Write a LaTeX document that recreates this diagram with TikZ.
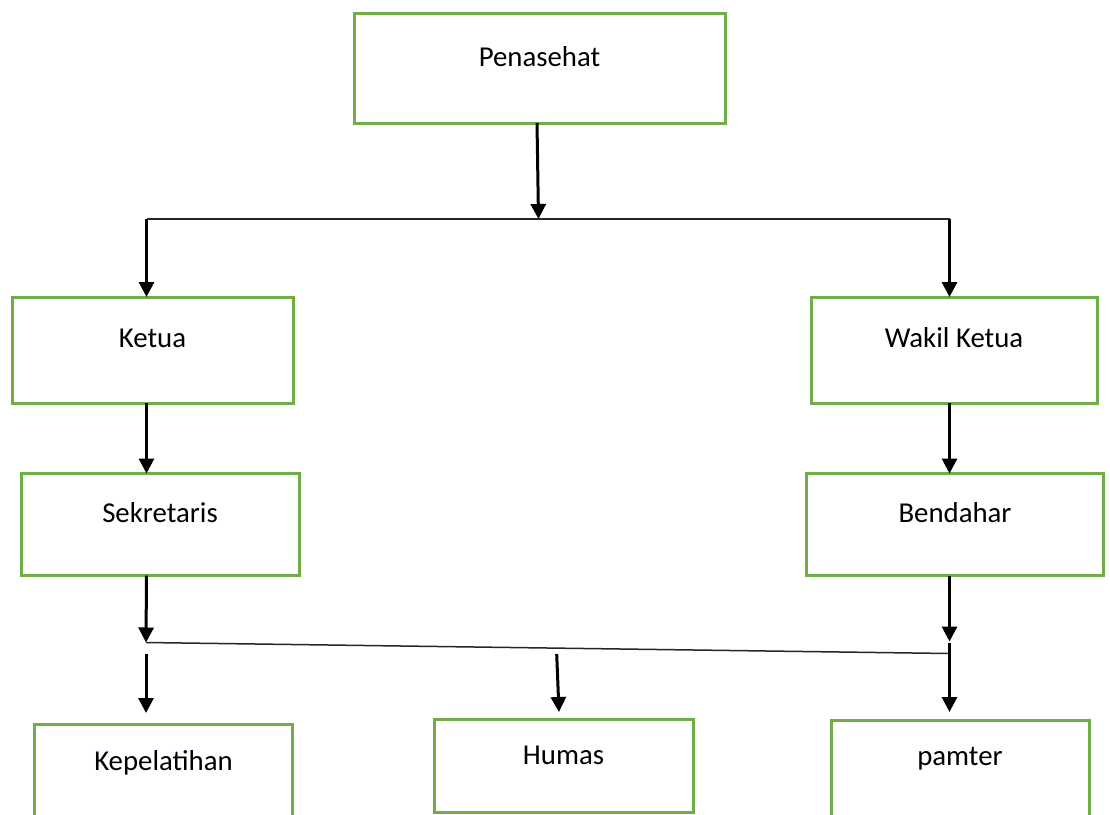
\documentclass[tikz,border=0pt]{standalone}
\usepackage{fontspec}
\setmainfont{Carlito}
\usetikzlibrary{arrows.meta}
\definecolor{boxgreen}{HTML}{70AD47}
\definecolor{linegrey}{HTML}{262626}
\tikzset{
  orgbox/.style={draw=boxgreen, line width=3pt, fill=white, rectangle, inner sep=0pt, outer sep=0pt, anchor=north west},
  lbl/.style={anchor=base, inner sep=0pt, font=\fontsize{28.8}{34}\selectfont},
  arr/.style={draw=black, line width=3pt, -{Triangle[length=15pt,width=15pt]}},
  conn/.style={draw=linegrey, line width=1.5pt}
}
\begin{document}
\begin{tikzpicture}[x=1pt,y=-1pt]
\useasboundingbox (0,0) rectangle (1110,814);
\fill[white] (0,0) rectangle (1110,814);
\begin{scope}
\clip (0,0) rectangle (1110,814);
% boxes
\node[orgbox, minimum width=371pt, minimum height=110pt] (p) at (354,13) {};
\node[orgbox, minimum width=281pt, minimum height=106pt] (k) at (12,297) {};
\node[orgbox, minimum width=286pt, minimum height=106pt] (w) at (811,297) {};
\node[orgbox, minimum width=278pt, minimum height=102pt] (s) at (21,473.5) {};
\node[orgbox, minimum width=297pt, minimum height=102pt] (b) at (806.5,473.5) {};
\node[orgbox, minimum width=258pt, minimum height=120pt] (kp) at (34.5,724) {};
\node[orgbox, minimum width=259pt, minimum height=92.5pt] (h) at (434,719.5) {};
\node[orgbox, minimum width=258.5pt, minimum height=120pt] (pm) at (831,720.5) {};
% labels
\node[lbl] (tp) at (539.5,66) {Penasehat};
\node[lbl] (tk) at (152.5,347.7) {Ketua};
\node[lbl] (tw) at (954,347.7) {Wakil Ketua};
\node[lbl] (ts) at (160,522.7) {Sekretaris};
\node[lbl] (tb) at (955,522.7) {Bendahar};
\node[lbl] (tkp) at (163.5,770) {Kepelatihan};
\node[lbl] (th) at (563.5,764.3) {Humas};
\node[lbl] (tpm) at (960,765) {pamter};
\end{scope}
% junction coordinates
\coordinate (j0) at (538.5,219);
\coordinate (jl) at (146.5,219);
\coordinate (jr) at (949.5,219);
\coordinate (a1) at (146,642.5);
\coordinate (a2) at (949.5,641.5);
\coordinate (b1) at (146,653.5);
\coordinate (b2) at (949.5,653.5);
\coordinate (c1) at (556.7,654);
\coordinate (c2) at (559,712);
\coordinate (e1) at (949.5,642.5);
% connectors
\draw[arr] ([xshift=-2.5pt]p.south) -- (j0);
\draw[conn] (jl) -- (jr);
\draw[arr] (jl) -- (jl |- k.north);
\draw[arr] (jr) -- (jr |- w.north);
\draw[arr] (jl |- k.south) -- (jl |- s.north);
\draw[arr] (jr |- w.south) -- (jr |- b.north);
\draw[arr] (jl |- s.south) -- (a1);
\draw[arr] (jr |- b.south) -- (a2);
\draw[conn] (a1) -- (b2);
\draw[arr, shorten >=11pt] (b1) -- (b1 |- kp.north);
\draw[arr] (c1) -- (c2);
\draw[arr, shorten >=8.5pt] (e1) -- (e1 |- pm.north);
\end{tikzpicture}
\end{document}
